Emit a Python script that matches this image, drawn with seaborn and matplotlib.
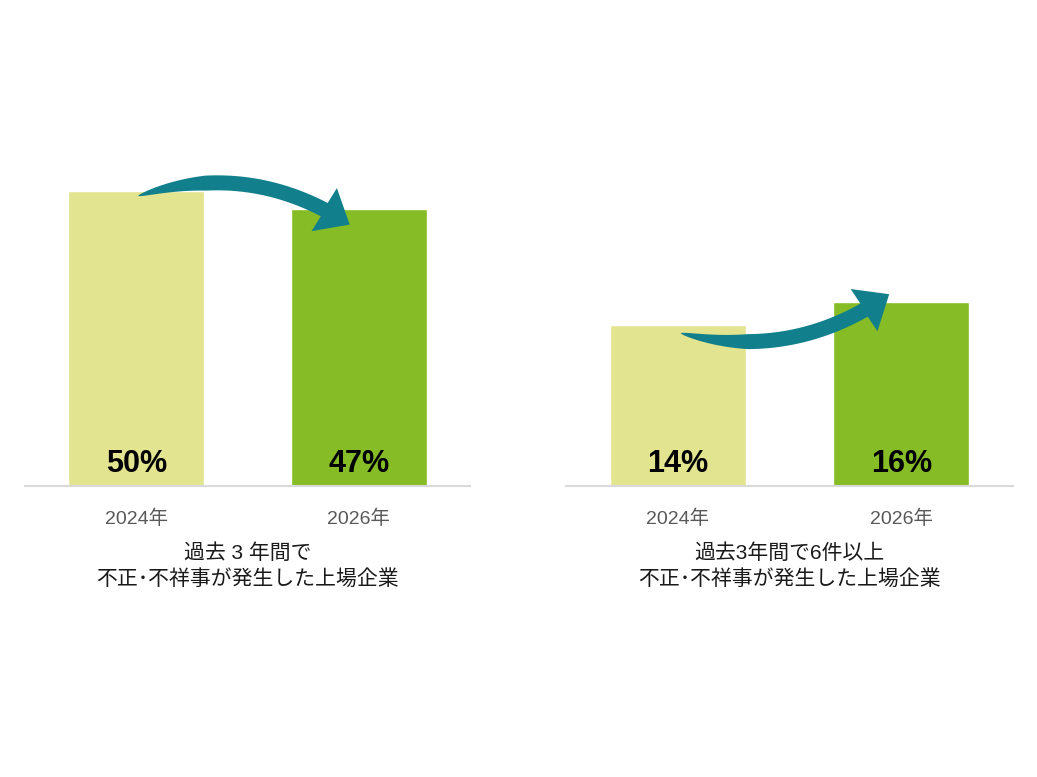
import numpy as np
import seaborn as sns
import matplotlib.pyplot as plt
from matplotlib.patches import Polygon
from matplotlib.transforms import IdentityTransform

sns.set_theme(style="white")
plt.rcParams['font.family'] = ['Liberation Sans', 'Noto Sans CJK JP', 'DejaVu Sans']

# data
years = ["2024年", "2026年"]
left_values = [50, 47]
right_values = [14, 16]
left_caption = "過去 3 年間で\n不正･不祥事が発生した上場企業"
right_caption = "過去3年間で6件以上\n不正･不祥事が発生した上場企業"

bar_colors = ["#E3E48F", "#86BC25"]
arrow_color = "#12808C"


def curved_arrow(ax, start, tip, bend, wmax=15, head_w=50, head_len=30):
    # start / tip in display pixels, bend > 0 bulges upward
    s = np.array(start, float)
    t = np.array(tip, float)
    d = t - s
    chord = np.hypot(*d)
    n = np.array([-d[1], d[0]]) / chord
    c = (s + t) / 2 + bend * chord * n
    u = np.linspace(0, 1, 400)[:, None]
    pts = (1 - u) ** 2 * s + 2 * (1 - u) * u * c + u ** 2 * t
    # cut the body where the head starts
    dist = np.hypot(*(pts - t).T)
    k = np.argmax(dist < head_len)
    body = pts[:k + 1]
    tang = np.gradient(body, axis=0)
    tang /= np.hypot(*tang.T)[:, None]
    norm = np.column_stack([-tang[:, 1], tang[:, 0]])
    frac = np.linspace(0, 1, len(body))
    w = wmax * np.clip(frac / 0.35, 0, 1) ** 0.6 / 2
    upper = body + norm * w[:, None]
    lower = body - norm * w[:, None]
    base = body[-1]
    hd = (t - base) / np.hypot(*(t - base))
    hn = np.array([-hd[1], hd[0]])
    head = np.array([base + hn * head_w / 2, t, base - hn * head_w / 2])
    poly = np.vstack([upper, head, lower[::-1]])
    ax.add_patch(Polygon(poly, closed=True, facecolor=arrow_color, edgecolor='none',
                         transform=IdentityTransform(), zorder=5, clip_on=False))


fig = plt.figure(figsize=(10.37, 7.77), dpi=100)
ax_l = fig.add_axes([0.0241, 0.3745, 0.4291, 0.4968])
ax_r = fig.add_axes([0.5458, 0.3745, 0.4310, 0.4968])

panels = [
    (ax_l, left_values, left_caption, 65.4, 0.24, (2, -5), (-9, -16)),
    (ax_r, right_values, right_caption, 33.6, -0.23, (3, -8), (-12, 8)),
]

for ax, vals, cap, ytop, bend, s_off, t_off in panels:
    sns.barplot(x=years, y=vals, hue=years, palette=bar_colors, width=0.61,
                saturation=1, legend=False, ax=ax)
    ax.set_xlim(-0.5, 1.5)
    ax.set_ylim(0, ytop)
    for sp in ["top", "right", "left"]:
        ax.spines[sp].set_visible(False)
    ax.spines["bottom"].set_color("#D9D9D9")
    ax.spines["bottom"].set_linewidth(1.5)
    ax.set_yticks([])
    ax.set_ylabel("")
    ax.tick_params(axis="x", length=0, pad=17, labelsize=14, labelcolor="#595959")

    for i, v in enumerate(vals):
        ax.annotate(f"{v}%", xy=(i, 0), xytext=(0, 10), textcoords="offset points",
                    ha="center", va="baseline", fontsize=22, fontweight="bold",
                    color="black")

    ax.text(0.5, -0.207, cap, transform=ax.transAxes, ha="center", va="center",
            fontsize=15, color="#1A1A1A", linespacing=1.4)

    p0 = ax.transData.transform((0, vals[0])) + np.array(s_off)
    p1 = ax.transData.transform((1, vals[1])) + np.array(t_off)
    curved_arrow(ax, p0, p1, bend)

fig.savefig("out.png", dpi=100, facecolor="white")
